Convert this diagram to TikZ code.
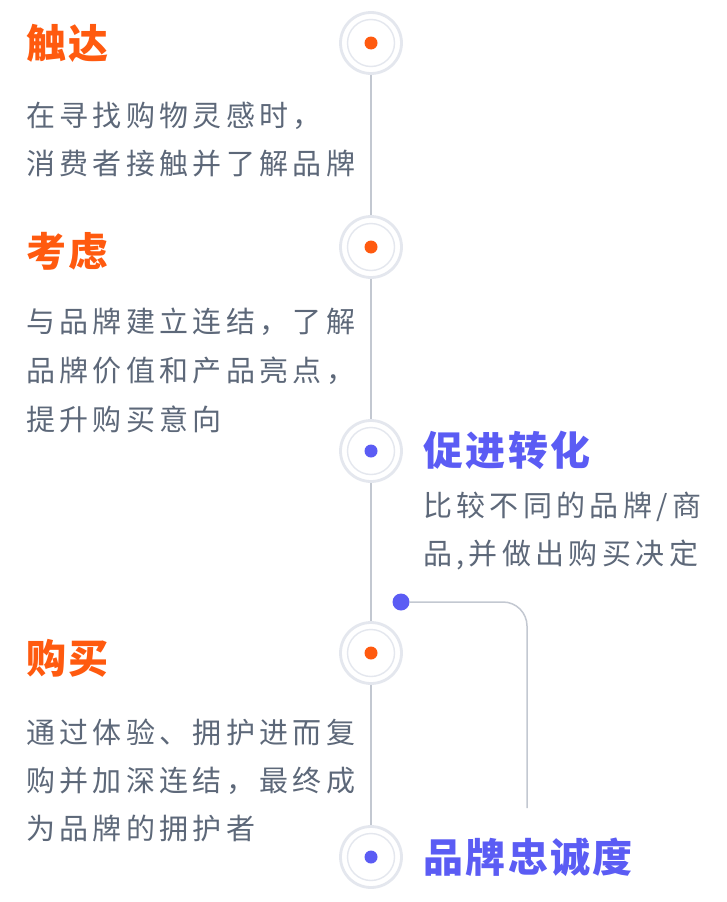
\documentclass[tikz,border=0pt]{standalone}
\usepackage{fontspec}
\newfontfamily\cjk{Noto Sans CJK SC}
\newfontfamily\cjkd{Noto Sans CJK SC}[LetterSpace=15]
\newfontfamily\cjkt{Noto Sans CJK SC}[LetterSpace=6]
\definecolor{orangec}{HTML}{FF5A0F}
\definecolor{bluec}{HTML}{5B5CF4}
\definecolor{grayc}{HTML}{5D6879}
\definecolor{linec}{HTML}{C3C8D1}
\definecolor{ringc}{HTML}{E4E7EE}
\begin{document}
\begin{tikzpicture}[x=1pt,y=-1pt,
  ring/.style={circle, draw=ringc, line width=2.8pt, minimum size=61pt, inner sep=0pt},
  tl/.style={draw=linec, line width=1.8pt},
  conn/.style={draw=linec, line width=1.5pt, rounded corners=24pt},
  titleO/.style={anchor=base west, inner sep=0pt, font=\fontsize{40}{40}\selectfont\cjkt\bfseries, text=orangec},
  titleB/.style={anchor=base west, inner sep=0pt, font=\fontsize{40}{40}\selectfont\cjkt\bfseries, text=bluec},
  desc/.style={anchor=base west, inner sep=0pt, font=\fontsize{29}{29}\selectfont\cjkd, text=grayc}
]
\useasboundingbox[fill=white] (0,0) rectangle (726,902);

% timeline circles
\node[ring] (c1) at (371,43) {};
\node[ring] (c2) at (371,247) {};
\node[ring] (c3) at (371,451) {};
\node[ring] (c4) at (371,653) {};
\node[ring] (c5) at (371,857) {};
\foreach \n/\col in {c1/orangec,c2/orangec,c3/bluec,c4/orangec,c5/bluec}{
  \draw[ringc, line width=1.4pt] (\n.center) circle (23.5);
  \fill[\col] (\n.center) circle (6.5);
}

% timeline segments
\draw[tl] (c1) -- (c2);
\draw[tl] (c2) -- (c3);
\draw[tl] (c3) -- (c4);
\draw[tl] (c4) -- (c5);

% loyalty branch
\node[circle, fill=bluec, minimum size=17pt, inner sep=0pt] (bd) at (401,602) {};
\coordinate (bend) at (527,602);
\coordinate (lend) at (527,808);
\draw[conn] (bd) -- (bend) -- (lend);

% section 1
\node[titleO] (t1) at (26,58) {触达};
\node[desc] (d11) at (26,126) {在寻找购物灵感时，};
\node[desc] (d12) at (26,174) {消费者接触并了解品牌};

% section 2
\node[titleO] (t2) at (26,266) {考虑};
\node[desc] (d21) at (26,332) {与品牌建立连结，了解};
\node[desc] (d22) at (26,381) {品牌价值和产品亮点，};
\node[desc] (d23) at (26,430) {提升购买意向};

% section 3
\node[titleB] (t3) at (423,465) {促进转化};
\node[desc] (d31) at (423,516) {比较不同的品牌/商};
\node[desc] (d32) at (423,564) {品,并做出购买决定};

% section 4
\node[titleO] (t4) at (26,673) {购买};
\node[desc] (d41) at (26,743) {通过体验、拥护进而复};
\node[desc] (d42) at (26,791) {购并加深连结，最终成};
\node[desc] (d43) at (26,839) {为品牌的拥护者};

% section 5
\node[titleB] (t5) at (423,872) {品牌忠诚度};
\end{tikzpicture}
\end{document}
